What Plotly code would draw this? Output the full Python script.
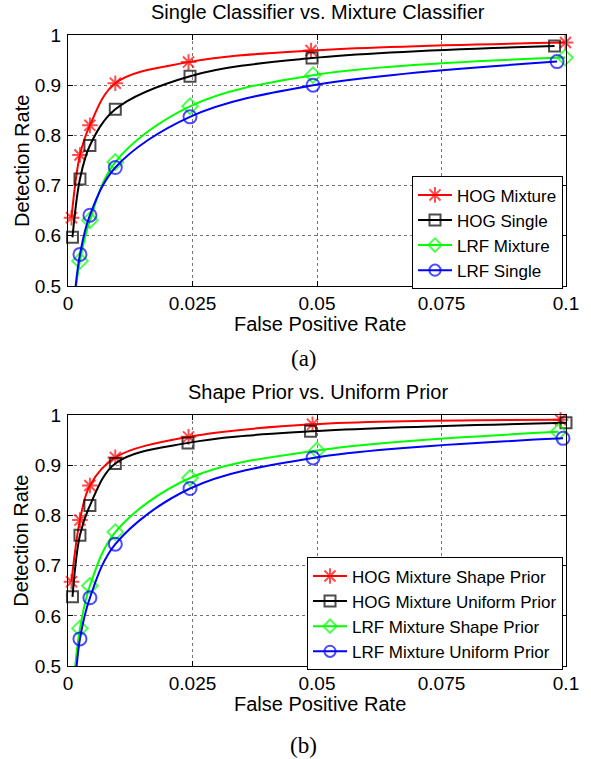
import plotly.graph_objects as go

# ---------------- data ----------------
x_ticks = [0, 0.025, 0.05, 0.075, 0.1]
x_tick_labels = ["0", "0.025", "0.05", "0.075", "0.1"]
y_ticks = [0.5, 0.6, 0.7, 0.8, 0.9, 1.0]
y_tick_labels = ["0.5", "0.6", "0.7", "0.8", "0.9", "1"]

# (a) Single Classifier vs. Mixture Classifier
a_hog_mix_x = [0.0007, 0.0024, 0.0044, 0.0095, 0.0242, 0.0488, 0.0999]
a_hog_mix_y = [0.636, 0.761, 0.820, 0.904, 0.946, 0.969, 0.985]
a_hog_single_x = [0.0009, 0.0024, 0.0044, 0.0095, 0.0245, 0.0490, 0.0977]
a_hog_single_y = [0.597, 0.713, 0.780, 0.852, 0.918, 0.954, 0.978]
a_lrf_mix_x = [0.0011, 0.0024, 0.0044, 0.0095, 0.0245, 0.0492, 0.0998]
a_lrf_mix_y = [0.457, 0.550, 0.631, 0.747, 0.858, 0.920, 0.955]
a_lrf_single_x = [0.0011, 0.0024, 0.0044, 0.0095, 0.0245, 0.0492, 0.0982]
a_lrf_single_y = [0.457, 0.563, 0.641, 0.736, 0.837, 0.900, 0.947]

# (b) Shape Prior vs. Uniform Prior
b_hog_shape_x = [0.0007, 0.0024, 0.0044, 0.0095, 0.0242, 0.0491, 0.0989]
b_hog_shape_y = [0.668, 0.791, 0.860, 0.916, 0.957, 0.982, 0.991]
b_hog_uniform_x = [0.0009, 0.0024, 0.0044, 0.0095, 0.0241, 0.0487, 0.1000]
b_hog_uniform_y = [0.638, 0.761, 0.820, 0.904, 0.945, 0.968, 0.985]
b_lrf_shape_x = [0.0011, 0.0024, 0.0044, 0.0095, 0.0245, 0.0500, 0.0985]
b_lrf_shape_y = [0.463, 0.575, 0.660, 0.767, 0.875, 0.930, 0.967]
b_lrf_uniform_x = [0.0012, 0.0024, 0.0044, 0.0095, 0.0245, 0.0492, 0.0994]
b_lrf_uniform_y = [0.434, 0.554, 0.636, 0.743, 0.854, 0.915, 0.954]

names_a = ["HOG Mixture", "HOG Single", "LRF Mixture", "LRF Single"]
names_b = ["HOG Mixture Shape Prior", "HOG Mixture Uniform Prior",
           "LRF Mixture Shape Prior", "LRF Mixture Uniform Prior"]

# ---------------- styling ----------------
FONT = "Liberation Sans, Arial, sans-serif"
colors = ["#ff0000", "#000000", "#00ff00", "#0000ff"]
symbols = ["asterisk-open", "square-open", "diamond-open", "circle-open"]
msizes = [13, 11, 12, 13]

fig = go.Figure()

series_a = [(a_hog_mix_x, a_hog_mix_y), (a_hog_single_x, a_hog_single_y),
            (a_lrf_mix_x, a_lrf_mix_y), (a_lrf_single_x, a_lrf_single_y)]
series_b = [(b_hog_shape_x, b_hog_shape_y), (b_hog_uniform_x, b_hog_uniform_y),
            (b_lrf_shape_x, b_lrf_shape_y), (b_lrf_uniform_x, b_lrf_uniform_y)]


def add_series(series, names, xa, ya, legend):
    for i, ((xs, ys), nm) in enumerate(zip(series, names)):
        sizes = [0 if y < 0.5 else msizes[i] for y in ys]
        fig.add_trace(go.Scatter(
            x=xs, y=ys, name=nm, mode="lines+markers",
            line=dict(color=colors[i], width=2, shape="spline", smoothing=1.0),
            marker=dict(symbol=symbols[i], size=sizes, color=colors[i],
                        line=dict(color=colors[i], width=2)),
            cliponaxis=False, xaxis=xa, yaxis=ya, legend=legend))


add_series(series_a, names_a, "x", "y", "legend")
add_series(series_b, names_b, "x2", "y2", "legend2")

axis_common = dict(
    showline=True, linecolor="black", linewidth=1, mirror="ticks",
    ticks="inside", ticklen=5, tickcolor="black", tickwidth=1,
    showgrid=True, gridcolor="rgba(60,60,60,0.7)", griddash="dot", gridwidth=1,
    zeroline=False, tickfont=dict(family=FONT, size=19, color="black"),
)

xax = dict(axis_common, range=[0, 0.1], tickvals=x_ticks, ticktext=x_tick_labels)
yax = dict(axis_common, range=[0.5, 1.0], tickvals=y_ticks, ticktext=y_tick_labels,
           ticklabelstandoff=2)

leg_common = dict(
    bgcolor="white", bordercolor="black", borderwidth=1,
    font=dict(family=FONT, size=17, color="black"),
    xanchor="right", yanchor="top", itemwidth=34, tracegroupgap=0,
)

fig.update_layout(
    width=591, height=759,
    margin=dict(l=68, r=21, t=35, b=93),
    paper_bgcolor="white", plot_bgcolor="white",
    font=dict(family=FONT, color="black"),
    xaxis=dict(xax, domain=[0, 1], anchor="y"),
    yaxis=dict(yax, domain=[0.6022, 1.0], anchor="x"),
    xaxis2=dict(xax, domain=[0, 1], anchor="y2"),
    yaxis2=dict(yax, domain=[0.0, 0.3973], anchor="x2"),
    legend=dict(leg_common, x=0.994, y=0.776),
    legend2=dict(leg_common, x=0.994, y=0.172),
    showlegend=True,
)

ann_font = dict(family=FONT, size=20, color="black")
annotations = [
    dict(text="Single Classifier vs. Mixture Classifier", x=0.502, y=1.0366,
         xref="paper", yref="paper", showarrow=False, font=ann_font,
         xanchor="center", yanchor="middle"),
    dict(text="Shape Prior vs. Uniform Prior", x=0.502, y=0.4338,
         xref="paper", yref="paper", showarrow=False, font=ann_font,
         xanchor="center", yanchor="middle"),
    dict(text="False Positive Rate", x=0.5054, y=0.5420,
         xref="paper", yref="paper", showarrow=False, font=ann_font,
         xanchor="center", yanchor="middle"),
    dict(text="False Positive Rate", x=0.5054, y=-0.0600,
         xref="paper", yref="paper", showarrow=False, font=ann_font,
         xanchor="center", yanchor="middle"),
    dict(text="Detection Rate", x=-0.0936, y=0.801, textangle=-90,
         xref="paper", yref="paper", showarrow=False, font=ann_font,
         xanchor="center", yanchor="middle"),
    dict(text="Detection Rate", x=-0.0936, y=0.199, textangle=-90,
         xref="paper", yref="paper", showarrow=False, font=ann_font,
         xanchor="center", yanchor="middle"),
    dict(text="(a)", x=0.4735, y=0.4876, xref="paper", yref="paper",
         showarrow=False, xanchor="center", yanchor="middle",
         font=dict(family="Liberation Serif, Times New Roman, serif", size=23, color="black")),
    dict(text="(b)", x=0.4735, y=-0.1257, xref="paper", yref="paper",
         showarrow=False, xanchor="center", yanchor="middle",
         font=dict(family="Liberation Serif, Times New Roman, serif", size=23, color="black")),
]
fig.update_layout(annotations=annotations)

fig.write_html(
    "out.html",
    config={"displayModeBar": False},
    post_script="document.body.style.margin='0';document.body.style.overflow='hidden';",
)
